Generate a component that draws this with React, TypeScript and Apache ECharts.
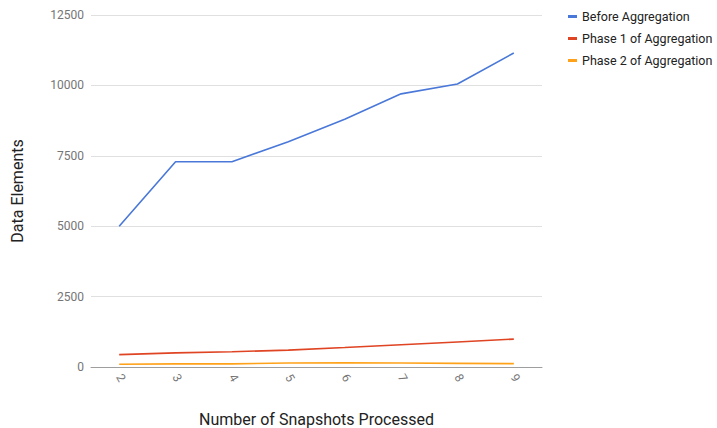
import React, { useEffect, useRef } from "react";
import * as echarts from "echarts";

const categories = ["2", "3", "4", "5", "6", "7", "8", "9"];
const beforeAggregation = [5000, 7290, 7290, 8000, 8800, 9700, 10050, 11150];
const phase1 = [440, 500, 540, 600, 690, 790, 890, 990];
const phase2 = [100, 110, 110, 140, 150, 140, 130, 120];
const yTicks = { min: 0, max: 12500, interval: 2500 };

export default function App() {
  const ref = useRef<HTMLDivElement>(null);
  useEffect(() => {
    const chart = echarts.init(ref.current!, null, { renderer: "svg" });
    const font = "Roboto, 'Noto Sans', sans-serif";
    chart.setOption({
      animation: false,
      textStyle: { fontFamily: font },
      grid: { left: 91, right: 175, top: 15, bottom: 61, containLabel: false, outerBoundsMode: "none" },
      legend: {
        orient: "vertical",
        left: 563,
        top: 5,
        itemGap: 9,
        itemWidth: 9,
        itemHeight: 3,
        icon: "rect",
        textStyle: { color: "#222222", fontSize: 12.5, fontFamily: font },
        data: ["Before Aggregation", "Phase 1 of Aggregation", "Phase 2 of Aggregation"],
      },
      xAxis: {
        type: "category",
        data: categories,
        boundaryGap: true,
        name: "Number of Snapshots Processed",
        nameLocation: "middle",
        nameGap: 44,
        nameTextStyle: { color: "#222222", fontSize: 16, fontFamily: font },
        axisLine: { show: true, lineStyle: { color: "#9e9e9e", width: 1 } },
        axisTick: { show: false },
        axisLabel: { color: "#757575", fontSize: 12, rotate: -60, margin: 8, fontFamily: font },
        splitLine: { show: false },
      },
      yAxis: {
        type: "value",
        min: yTicks.min,
        max: yTicks.max,
        interval: yTicks.interval,
        name: "Data Elements",
        nameLocation: "middle",
        nameGap: 66,
        nameRotate: 90,
        nameTextStyle: { color: "#222222", fontSize: 16, fontFamily: font },
        axisLine: { show: false },
        axisTick: { show: false },
        axisLabel: {
          color: "#757575",
          fontSize: 12,
          margin: 7,
          fontFamily: font,
          formatter: (v: number) => String(v),
        },
        splitLine: { lineStyle: { color: "#e0e0e0", width: 1 } },
      },
      series: [
        {
          name: "Before Aggregation",
          type: "line",
          data: beforeAggregation,
          symbol: "none",
          lineStyle: { color: "#4a78d9", width: 1.6 },
          itemStyle: { color: "#4a78d9" },
        },
        {
          name: "Phase 1 of Aggregation",
          type: "line",
          data: phase1,
          symbol: "none",
          lineStyle: { color: "#df4423", width: 1.6 },
          itemStyle: { color: "#df4423" },
        },
        {
          name: "Phase 2 of Aggregation",
          type: "line",
          data: phase2,
          symbol: "none",
          lineStyle: { color: "#ffa21a", width: 1.6 },
          itemStyle: { color: "#ffa21a" },
        },
      ],
    });
    return () => chart.dispose();
  }, []);
  return <div ref={ref} style={{ width: 717, height: 428, position: "absolute", left: 0, top: 0 }} />;
}
